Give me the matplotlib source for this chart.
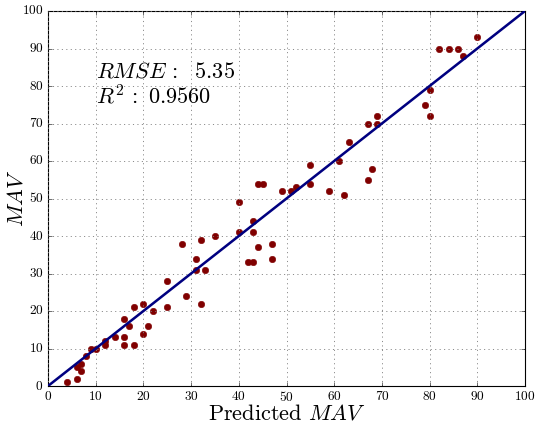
import matplotlib
matplotlib.use("Agg")
import matplotlib.pyplot as plt

plt.style.use("classic")
plt.rcParams["font.family"] = ["cmr10", "DejaVu Serif"]
plt.rcParams["mathtext.fontset"] = "cm"
plt.rcParams["axes.unicode_minus"] = False
plt.rcParams["axes.formatter.use_mathtext"] = True

predicted = [4, 6, 6, 7, 7, 8, 9, 10, 12, 12, 14, 16, 16, 16, 17, 18, 18, 20, 20, 21, 22,
             25, 25, 28, 29, 31, 31, 32, 32, 33, 35, 40, 40, 42, 43, 43, 43, 44, 44, 45,
             47, 47, 49, 51, 52, 55, 55, 59, 61, 62, 63, 67, 67, 68, 69, 69, 79, 80, 80,
             82, 84, 86, 87, 90]
actual = [1, 2, 5, 4, 6, 8, 10, 10, 11, 12, 13, 11, 13, 18, 16, 11, 21, 22, 14, 16, 20,
          21, 28, 38, 24, 34, 31, 39, 22, 31, 40, 49, 41, 33, 33, 41, 44, 37, 54, 54,
          38, 34, 52, 52, 53, 59, 54, 52, 60, 51, 65, 55, 70, 58, 70, 72, 75, 72, 79,
          90, 90, 90, 88, 93]
identity = [0, 100]
ticks = [0, 10, 20, 30, 40, 50, 60, 70, 80, 90, 100]
rmse_text = r"$RMSE\,:\ \ 5.35$"
r2_text = r"$R^2\,:\ 0.9560$"

fig = plt.figure(figsize=(6.7, 5.2875), dpi=80, facecolor="white")
ax = fig.add_axes([48 / 536, 1 - 386 / 423, 477 / 536, 375 / 423])
ax.set_facecolor("white")

ax.plot(predicted, actual, "o", color="#800000", markeredgecolor="#800000",
        markersize=5.8, zorder=2)
ax.plot(identity, identity, "-", color="#000080", linewidth=2.3, zorder=3)

ax.set_xlim(0, 100)
ax.set_ylim(0, 100)
ax.set_xticks(ticks)
ax.set_yticks(ticks)
ax.grid(True, linestyle=":", color="#808080", linewidth=0.8)
ax.tick_params(labelsize=12, direction="in", top=True, right=True, pad=4)

ax.set_xlabel(r"Predicted $MAV$", fontsize=20, labelpad=-1)
ax.set_ylabel(r"$MAV$", fontsize=20, labelpad=-4)

ax.text(10, 82.3, rmse_text, fontsize=20)
ax.text(10, 75.2, r2_text, fontsize=20)

fig.savefig("out.png", dpi=80, facecolor="white")
